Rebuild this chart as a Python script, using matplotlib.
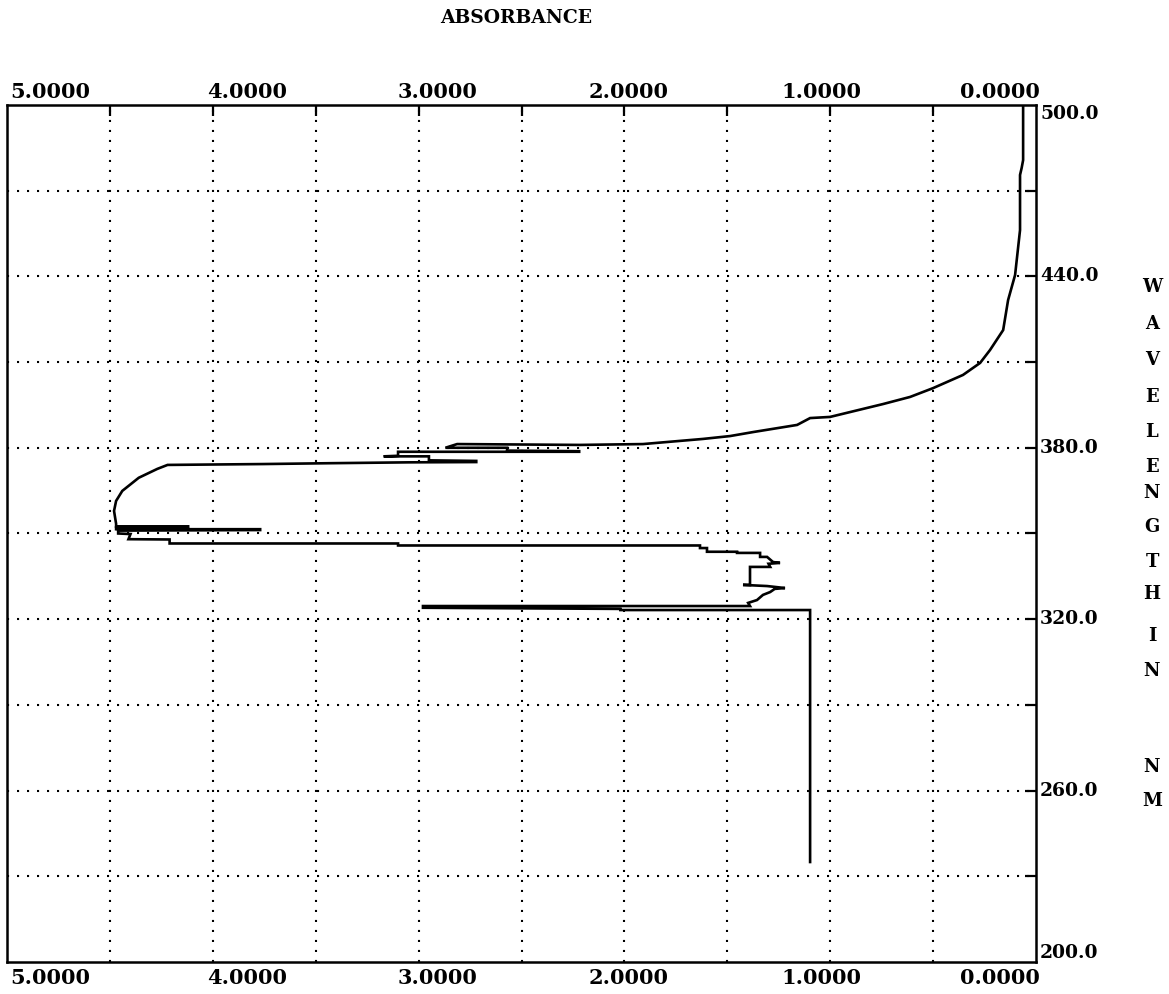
#!/usr/bin/env python3
import numpy as np
import matplotlib
matplotlib.use("Agg")
import matplotlib.pyplot as plt

# spectrum trace (wavelength nm, absorbance)
wavelength = [500.0, 480.7, 478.0, 475.5, 456.2, 440.5, 431.7, 421.2, 414.2, 409.7,
              405.5, 400.9, 397.8, 395.3, 392.5, 390.8, 390.4, 388.0, 385.5, 384.1,
              383.1, 381.3, 381.0, 381.3, 380.0, 380.0, 379.0, 378.8, 378.6, 378.6,
              377.2, 377.0, 377.0, 375.6, 375.4, 375.0, 374.9, 374.6, 374.3, 374.0,
              372.6, 369.5, 364.9, 361.4, 357.9, 353.4, 352.5, 352.5, 352.1, 352.0,
              351.5, 351.5, 351.2, 351.0, 350.0, 349.8, 348.0, 347.9, 346.5, 346.5,
              345.8, 345.8, 344.9, 344.9, 343.6, 343.6, 343.2, 343.2, 341.8, 341.8,
              340.0, 339.7, 339.4, 338.3, 338.3, 332.0, 332.0, 331.6, 330.9, 330.6,
              329.5, 328.5, 326.7, 325.7, 324.6, 324.6, 324.0, 323.6, 323.2, 323.2,
              235.0]
absorbance = [0.063, 0.063, 0.070, 0.078, 0.078, 0.102, 0.136, 0.160, 0.224, 0.272,
              0.355, 0.500, 0.612, 0.744, 0.904, 1.001, 1.098, 1.161, 1.375, 1.487,
              1.618, 1.910, 2.216, 2.813, 2.870, 2.570, 2.570, 2.220, 2.220, 3.100,
              3.100, 3.170, 2.950, 2.950, 2.720, 2.720, 3.050, 3.430, 3.760, 4.220,
              4.270, 4.360, 4.440, 4.470, 4.480, 4.470, 4.470, 4.120, 4.120, 4.470,
              4.470, 3.770, 3.770, 4.460, 4.460, 4.400, 4.410, 4.210, 4.210, 3.100,
              3.100, 1.633, 1.633, 1.599, 1.599, 1.453, 1.453, 1.341, 1.341, 1.307,
              1.278, 1.244, 1.300, 1.292, 1.390, 1.390, 1.424, 1.307, 1.220, 1.270,
              1.292, 1.327, 1.356, 1.399, 1.390, 2.979, 2.979, 2.020, 2.020, 1.098,
              1.098]

abs_labels = ["5.0000", "4.0000", "3.0000", "2.0000", "1.0000", "0.0000"]
wl_labels = [500.0, 440.0, 380.0, 320.0, 260.0, 200.0]
side_title = "WAVELENGTH IN NM"

FONT = "DejaVu Serif"


def main():
    fig = plt.figure(figsize=(11.69, 9.94), dpi=100)
    ax = fig.add_axes([0.006, 0.0322, 0.8803, 0.8622])

    ax.set_xlim(5.0, 0.0)
    ax.set_ylim(200.0, 500.0)

    # dotted grid every 0.5 absorbance / 30 nm
    dots = dict(color="black", lw=1.5, linestyle=(0, (1, 3.8)), zorder=1)
    for a in np.arange(0.5, 5.0, 0.5):
        ax.axvline(a, **dots)
    for w in np.arange(230, 500, 30):
        ax.axhline(w, **dots)

    ax.plot(absorbance, wavelength, color="black", lw=1.9, zorder=3,
            solid_joinstyle="miter")

    for s in ax.spines.values():
        s.set_linewidth(1.8)
        s.set_color("black")

    # small tick marks: top edge at every grid column, right edge at every row
    ax.set_xticks(np.arange(0.5, 5.0, 0.5))
    ax.set_yticks(np.arange(230, 500, 30))
    ax.tick_params(axis="x", which="both", direction="in", length=8, width=1.6,
                   top=True, bottom=False, labeltop=False, labelbottom=False)
    ax.tick_params(axis="y", which="both", direction="in", length=8, width=1.6,
                   left=False, right=True, labelleft=False, labelright=False)

    # absorbance labels top and bottom (printed slightly off the grid)
    lab_pos = [0.042, 0.233, 0.418, 0.604, 0.791, 0.965]
    for fx, t in zip(lab_pos, abs_labels):
        ax.text(fx, 1.0 + 13 / 857, t, transform=ax.transAxes, ha="center",
                va="center", fontsize=15, fontweight="bold", family=FONT)
        ax.text(fx, -16 / 857, t, transform=ax.transAxes, ha="center",
                va="center", fontsize=15, fontweight="bold", family=FONT)

    # wavelength labels on the right
    for w in wl_labels:
        va = "center"
        if w == 500.0:
            va = "top"
        elif w == 200.0:
            va = "bottom"
        ax.text(1.0 + 4 / 1029, w, f"{w:.1f}", transform=ax.get_yaxis_transform(),
                ha="left", va=va, fontsize=13.5, fontweight="bold", family=FONT)

    fig.text(516 / 1169, 1 - 18 / 994, "ABSORBANCE", ha="center", va="center",
             fontsize=13.5, fontweight="bold", family=FONT)

    # vertical axis title, one letter per line
    ys = [287, 324, 360, 397, 432, 467, 493, 527, 562, 594, None, 636, 671, None, 767, 801]
    for ch, y in zip(side_title, ys):
        if y is None or ch == " ":
            continue
        fig.text(1152 / 1169, 1 - y / 994, ch, ha="center", va="center",
                 fontsize=13, fontweight="bold", family=FONT)

    fig.savefig("out.png", dpi=100, facecolor="white")
    plt.close(fig)


if __name__ == "__main__":
    main()
